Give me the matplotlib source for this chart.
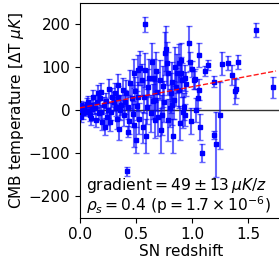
import matplotlib
matplotlib.use("Agg")
import matplotlib.pyplot as plt
import numpy as np

# SN redshift, CMB temperature [uK], error [uK]
redshift = [
    0.005, 0.01, 0.01, 0.02, 0.03, 0.04, 0.05, 0.06, 0.07, 0.08,
    0.09, 0.10, 0.10, 0.11, 0.12, 0.13, 0.14, 0.15, 0.16, 0.17,
    0.18, 0.19, 0.19, 0.20, 0.21, 0.22, 0.23, 0.24, 0.25, 0.26,
    0.27, 0.28, 0.29, 0.30, 0.31, 0.32, 0.33, 0.34, 0.34, 0.35,
    0.36, 0.37, 0.38, 0.39, 0.40, 0.41, 0.42, 0.43, 0.43, 0.44,
    0.45, 0.46, 0.47, 0.48, 0.48, 0.49, 0.50, 0.51, 0.52, 0.52,
    0.53, 0.54, 0.55, 0.56, 0.57, 0.58, 0.58, 0.59, 0.60, 0.61,
    0.62, 0.63, 0.64, 0.65, 0.66, 0.67, 0.67, 0.68, 0.69, 0.70,
    0.71, 0.72, 0.73, 0.74, 0.75, 0.76, 0.77, 0.78, 0.79, 0.79,
    0.80, 0.81, 0.82, 0.82, 0.83, 0.84, 0.85, 0.86, 0.87, 0.88,
    0.88, 0.89, 0.90, 0.90, 0.91, 0.92, 0.93, 0.94, 0.94, 0.95,
    0.97, 0.98, 0.99, 1.00, 1.02, 1.03, 1.04, 1.05, 1.06, 1.06,
    1.07, 1.09, 1.12, 1.14, 1.20, 1.20, 1.21, 1.25, 1.27, 1.32,
    1.36, 1.38, 1.39, 1.41, 1.57, 1.72,
]
cmb_temp = [
    12, 0, -16, 5, -8, 8, -4, 15, 19, -2,
    -12, 12, -19, 3, 31, 4, -23, 19, 39, -8,
    27, 43, -4, -28, 12, -39, 22, -16, 0, 50,
    -27, -4, 30, 19, 39, 8, -20, 58, 31, -45,
    0, 12, 47, -12, 19, 39, -143, -50, 8, -25,
    62, 27, -10, 85, -35, 45, -70, 10, 93, 31,
    -20, 97, 70, -40, 31, 199, 93, -60, 8, 54,
    75, -8, 112, 20, 74, 23, -23, 90, 43, -16,
    70, -47, -12, 55, 19, 132, 143, 109, 85, -23,
    5, 39, 12, 66, -60, 23, 101, 54, 85, 109,
    47, -30, 116, 85, 70, -5, 8, 74, -12, 60,
    155, 112, -25, 95, 70, 72, 0, 27, 128, 47,
    -39, -99, 91, 105, 66, -58, -80, -12, 108, 110,
    81, 45, 50, 111, 186, 53,
]
temp_err = [
    10, 8, 12, 10, 12, 10, 10, 12, 14, 10,
    14, 12, 15, 12, 15, 14, 16, 15, 18, 16,
    18, 20, 16, 18, 18, 20, 18, 20, 18, 22,
    22, 20, 22, 22, 24, 22, 24, 26, 24, 25,
    24, 24, 28, 26, 28, 30, 10, 12, 28, 30,
    32, 30, 30, 34, 50, 32, 30, 34, 36, 34,
    36, 40, 38, 36, 38, 18, 40, 40, 40, 42,
    44, 42, 44, 40, 45, 45, 42, 46, 45, 44,
    46, 52, 46, 48, 48, 50, 52, 50, 50, 48,
    45, 46, 48, 46, 40, 44, 46, 44, 46, 44,
    42, 40, 40, 38, 40, 36, 32, 30, 25, 28,
    40, 22, 30, 18, 20, 24, 28, 22, 28, 24,
    30, 21, 12, 12, 12, 10, 75, 78, 27, 16,
    23, 30, 23, 16, 16, 24,
]

fit_z = [0.0, 1.75]
fit_intercept = 5
fit_slope = 49

fig = plt.figure(figsize=(2.79, 2.58), dpi=100)
ax = fig.add_axes([80 / 279, 40.5 / 258, 201.6 / 279, 215 / 258])

ax.axhline(0, color="k", lw=1, alpha=0.8, zorder=1)
ax.errorbar(redshift, cmb_temp, yerr=temp_err, fmt="none", ecolor="blue",
            elinewidth=1.5, alpha=0.6, capsize=2, capthick=1, zorder=2)
ax.plot(redshift, cmb_temp, "s", color="blue", ms=2.2, zorder=3)

fz = np.array(fit_z)
ax.plot(fz, fit_intercept + fit_slope * fz, "r--", lw=1, alpha=0.9, zorder=4)

ax.set_xlim(0, 1.8)
ax.set_ylim(-250, 250)
ax.set_xticks([0.0, 0.5, 1.0, 1.5])
ax.set_yticks([-200, -100, 0, 100, 200])
ax.tick_params(labelsize=11)
ax.set_xlabel("SN redshift", fontsize=11, labelpad=1)
ax.set_ylabel(r"CMB temperature [$\Delta$T $\mu K$]", fontsize=11, labelpad=2)

ax.text(0.03, 0.13, r"gradient$= 49 \pm 13\,\mu K/z$", transform=ax.transAxes,
        fontsize=11.2)
ax.text(0.03, 0.03, r"$\rho_s = 0.4$ (p$ = 1.7\times10^{-6}$)", transform=ax.transAxes,
        fontsize=11.2)

fig.savefig("out.png", dpi=100)
